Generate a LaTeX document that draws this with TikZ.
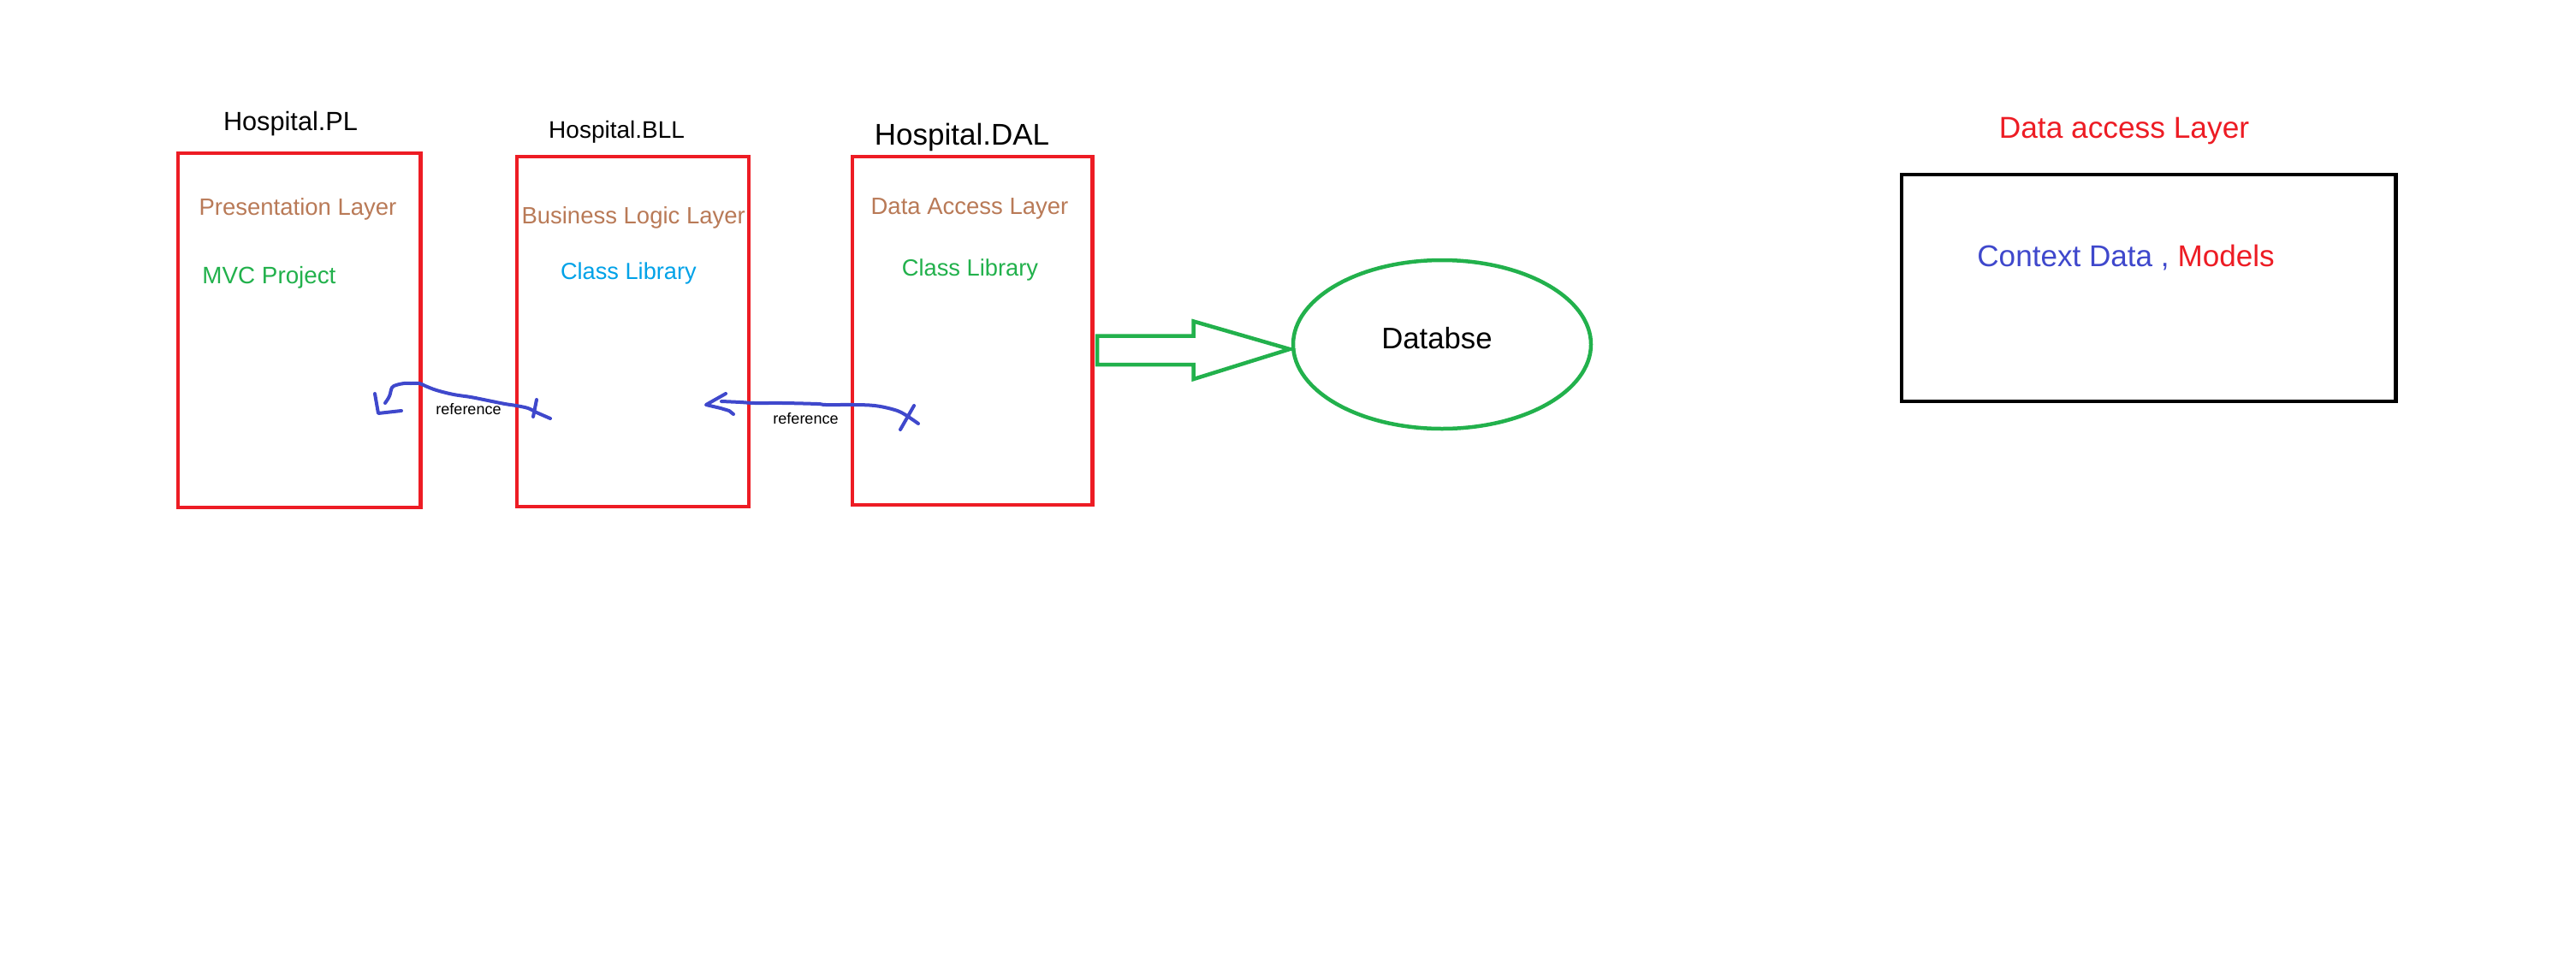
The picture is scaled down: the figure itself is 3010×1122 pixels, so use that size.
\documentclass[tikz,border=0pt]{standalone}
\usepackage{fontspec}
\usepackage{tikz}
\usetikzlibrary{shapes.geometric}
\setmainfont{Liberation Sans}
\newfontfamily\paintfont{Liberation Sans}
\definecolor{paintred}{HTML}{ED1C24}
\definecolor{paintbrown}{HTML}{B97A57}
\definecolor{paintgreen}{HTML}{22B14C}
\definecolor{paintcyan}{HTML}{00A2E8}
\definecolor{paintindigo}{HTML}{3F48CC}
\tikzset{
	painttext/.style={inner sep=0pt, anchor=base, font=\paintfont\fontsize{#1}{#1}\selectfont},
	layerbox/.style={draw=paintred, line width=4.5pt, inner sep=0pt},
	scribble/.style={draw=paintindigo, line width=4pt, line cap=round, line join=round},
}
\begin{document}
\begin{tikzpicture}[x=1pt, y=-1pt]

	\path[fill=white] (0,0) rectangle (3010,1122);

	% layers
	\node [layerbox, minimum width=283.5, minimum height=414] (pl) at (349.75,386) {};
	\node [layerbox, minimum width=271, minimum height=409] (bll) at (739.5,387.5) {};
	\node [layerbox, minimum width=280.5, minimum height=407] (dal) at (1136,386.5) {};

	\node [painttext=30.7] (pltitle) at (339.5,152.7) {Hospital.PL};
	\node [painttext=27.5] (plname) at (348,251.7) {\color{paintbrown}Presentation Layer};
	\node [painttext=27.8] (pltype) at (314.5,331.7) {\color{paintgreen}MVC Project};

	\node [painttext=28] (blltitle) at (720.6,161.7) {Hospital.BLL};
	\node [painttext=27.5] (bllname) at (740.2,261) {\color{paintbrown}Business Logic Layer};
	\node [painttext=27.2] (blltype) at (734.4,326.7) {\color{paintcyan}Class Library};

	\node [painttext=35] (daltitle) at (1124,169) {Hospital.DAL};
	\node [painttext=27.5] (dalname) at (1133,250.7) {\color{paintbrown}Data Access Layer};
	\node [painttext=27.3] (daltype) at (1133.5,322.3) {\color{paintgreen}Class Library};

	% database
	\node [ellipse, draw=paintgreen, line width=4.5pt, inner sep=0pt, minimum width=348, minimum height=197] (db) at (1685,402.5) {};
	\node [painttext=34.7] (dbtext) at (1679,407.3) {Databse};
	\draw [paintgreen, line width=4.5pt] (1282,392.5) -- (1394.7,392.5) -- (1394.7,375.5) -- (1507,408)
		-- (1394.7,443) -- (1394.7,426) -- (1282,426) -- cycle;

	% references
	\coordinate (blltail) at (643,489);
	\coordinate (pltip) at (442,483);
	\draw [scribble] plot [smooth, tension=0.6] coordinates {(blltail) (627,482) (617,477) (603,474)
		(590,472) (570,468) (550,464) (530,461) (510,456) (497,451) (490,448) (480,448)
		(472,448) (463,450) (458,453) (455,463) (450,471)};
	\draw [scribble] (627,467) -- (623,487);
	\draw [scribble] (438,460) -- (pltip) -- (469,480);
	\node [painttext=18] (ref1) at (547.5,484) {reference};

	\coordinate (daltail) at (1073,495);
	\coordinate (blltip) at (825,473);
	\draw [scribble] plot [smooth, tension=0.6] coordinates {(daltail) (1055,483) (1042,478)
		(1022,474) (998,473) (965,473) (955,472) (915,471) (882,471) (865,470) (843,469)};
	\draw [scribble] (1068,474) -- (1052,502);
	\draw [scribble] (848,460) -- (blltip) -- (842,477) -- (852,480) -- (857,484);
	\node [painttext=18] (ref2) at (941.5,495) {reference};

	% data access layer
	\node [painttext=35.3] (datitle) at (2482,161.7) {\color{paintred}Data access Layer};
	\node [draw, line width=4.5pt, inner sep=0pt, minimum width=577.5, minimum height=265] (dabox) at (2510.75,336.5) {};
	\node [painttext=35.1] (dacontent) at (2484,311) {\color{paintindigo}Context Data , \color{paintred}Models};

\end{tikzpicture}
\end{document}
